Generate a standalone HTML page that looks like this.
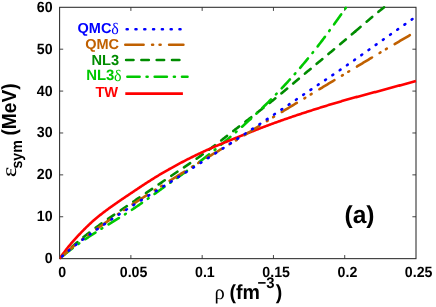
<!DOCTYPE html>
<html><head><meta charset="utf-8"><title>chart</title>
<style>html,body{margin:0;padding:0;background:#fff;width:436px;height:307px;overflow:hidden;font-family:"Liberation Sans",sans-serif}</style></head>
<body>
<svg width="436" height="307" viewBox="0 0 436 307" text-rendering="geometricPrecision" style="position:absolute;left:0;top:0;will-change:transform;opacity:0.999">
<rect width="436" height="307" fill="#fff"/>
<clipPath id="c"><rect x="59.6" y="5.8" width="357.4" height="254.34999999999997"/></clipPath>
<path d="M130.88,258.65 v-3.6 M130.88,7.3 v3.6 M202.16,258.65 v-3.6 M202.16,7.3 v3.6 M273.44,258.65 v-3.6 M273.44,7.3 v3.6 M344.72,258.65 v-3.6 M344.72,7.3 v3.6 M59.6,216.76 h3.6 M416.0,216.76 h-3.6 M59.6,174.87 h3.6 M416.0,174.87 h-3.6 M59.6,132.97 h3.6 M416.0,132.97 h-3.6 M59.6,91.08 h3.6 M416.0,91.08 h-3.6 M59.6,49.19 h3.6 M416.0,49.19 h-3.6" stroke="#444" stroke-width="1" fill="none"/>
<rect x="59.6" y="7.3" width="356.4" height="251.34999999999997" fill="none" stroke="#2b2b2b" stroke-width="1.05"/>
<g clip-path="url(#c)" fill="none" stroke-width="2.6">
<path d="M59.60,258.65 L60.34,257.91 L61.08,257.18 L61.82,256.45 L62.56,255.72 L63.30,255.00 L64.04,254.29 L64.78,253.57 L65.52,252.86 L66.26,252.16 L67.00,251.46 L67.74,250.76 L68.48,250.07 L69.22,249.39 L69.96,248.71 L70.70,248.03 L71.44,247.36 L72.19,246.69 L72.93,246.02 L73.67,245.37 L74.41,244.71 L75.15,244.06 L75.89,243.42 L76.63,242.78 L77.37,242.15 L78.11,241.52 L78.85,240.90 L79.59,240.28 L80.33,239.66 L81.07,239.05 L81.81,238.45 L82.55,237.85 L83.29,237.25 L84.03,236.66 L84.77,236.07 L85.51,235.49 L86.25,234.90 L86.99,234.33 L87.73,233.75 L88.47,233.18 L89.21,232.61 L89.95,232.04 L90.69,231.48 L91.43,230.92 L92.17,230.36 L92.91,229.81 L93.65,229.25 L94.39,228.70 L95.13,228.15 L95.88,227.60 L96.62,227.05 L97.36,226.51 L98.10,225.97 L98.84,225.43 L99.58,224.89 L100.32,224.36 L101.06,223.83 L101.80,223.30 L102.54,222.77 L103.28,222.25 L104.02,221.73 L104.76,221.20 L105.50,220.69 L106.24,220.17 L106.98,219.65 L107.72,219.14 L108.46,218.62 L109.20,218.11 L109.94,217.60 L110.68,217.09 L111.42,216.59 L112.16,216.08 L112.90,215.57 L113.64,215.07 L114.38,214.56 L115.12,214.06 L115.86,213.56 L116.60,213.05 L117.34,212.55 L118.08,212.05 L118.82,211.55 L119.57,211.05 L120.31,210.55 L121.05,210.05 L121.79,209.54 L122.53,209.04 L123.27,208.54 L124.01,208.04 L124.75,207.54 L125.49,207.04 L126.23,206.53 L126.97,206.03 L127.71,205.52 L128.45,205.02 L129.19,204.51 L129.93,204.01 L130.67,203.50 L131.41,202.99 L132.15,202.48 L132.89,201.97 L133.63,201.46 L134.37,200.96 L135.11,200.45 L135.85,199.94 L136.59,199.44 L137.33,198.93 L138.07,198.42 L138.81,197.92 L139.55,197.41 L140.29,196.91 L141.03,196.40 L141.77,195.90 L142.51,195.39 L143.26,194.89 L144.00,194.38 L144.74,193.88 L145.48,193.37 L146.22,192.87 L146.96,192.36 L147.70,191.86 L148.44,191.36 L149.18,190.85 L149.92,190.35 L150.66,189.85 L151.40,189.34 L152.14,188.84 L152.88,188.34 L153.62,187.83 L154.36,187.33 L155.10,186.83 L155.84,186.32 L156.58,185.82 L157.32,185.32 L158.06,184.81 L158.80,184.31 L159.54,183.81 L160.28,183.30 L161.02,182.80 L161.76,182.30 L162.50,181.79 L163.24,181.29 L163.98,180.78 L164.72,180.28 L165.46,179.78 L166.20,179.27 L166.95,178.77 L167.69,178.26 L168.43,177.76 L169.17,177.26 L169.91,176.76 L170.65,176.26 L171.39,175.76 L172.13,175.26 L172.87,174.76 L173.61,174.27 L174.35,173.77 L175.09,173.27 L175.83,172.78 L176.57,172.28 L177.31,171.79 L178.05,171.29 L178.79,170.80 L179.53,170.30 L180.27,169.81 L181.01,169.31 L181.75,168.82 L182.49,168.32 L183.23,167.82 L183.97,167.33 L184.71,166.83 L185.45,166.33 L186.19,165.83 L186.93,165.33 L187.67,164.83 L188.41,164.33 L189.15,163.83 L189.89,163.32 L190.64,162.82 L191.38,162.31 L192.12,161.81 L192.86,161.30 L193.60,160.79 L194.34,160.28 L195.08,159.76 L195.82,159.25 L196.56,158.73 L197.30,158.21 L198.04,157.69 L198.78,157.17 L199.52,156.65 L200.26,156.12 L201.00,155.59 L201.74,155.06 L202.48,154.53 L203.22,153.99 L203.96,153.45 L204.70,152.91 L205.44,152.37 L206.18,151.83 L206.92,151.28 L207.66,150.73 L208.40,150.18 L209.14,149.63 L209.88,149.07 L210.62,148.52 L211.36,147.96 L212.10,147.40 L212.84,146.84 L213.58,146.27 L214.33,145.71 L215.07,145.14 L215.81,144.58 L216.55,144.01 L217.29,143.44 L218.03,142.87 L218.77,142.30 L219.51,141.73 L220.25,141.16 L220.99,140.58 L221.73,140.01 L222.47,139.44 L223.21,138.86 L223.95,138.28 L224.69,137.71 L225.43,137.13 L226.17,136.56 L226.91,135.98 L227.65,135.40 L228.39,134.83 L229.13,134.25 L229.87,133.67 L230.61,133.10 L231.35,132.52 L232.09,131.95 L232.83,131.37 L233.57,130.80 L234.31,130.22 L235.05,129.65 L235.79,129.08 L236.53,128.50 L237.27,127.93 L238.02,127.36 L238.76,126.79 L239.50,126.22 L240.24,125.66 L240.98,125.09 L241.72,124.52 L242.46,123.95 L243.20,123.38 L243.94,122.82 L244.68,122.25 L245.42,121.68 L246.16,121.12 L246.90,120.55 L247.64,119.98 L248.38,119.42 L249.12,118.85 L249.86,118.28 L250.60,117.71 L251.34,117.15 L252.08,116.58 L252.82,116.01 L253.56,115.44 L254.30,114.87 L255.04,114.30 L255.78,113.73 L256.52,113.16 L257.26,112.59 L258.00,112.02 L258.74,111.45 L259.48,110.87 L260.22,110.30 L260.96,109.72 L261.71,109.15 L262.45,108.57 L263.19,108.00 L263.93,107.42 L264.67,106.84 L265.41,106.26 L266.15,105.68 L266.89,105.09 L267.63,104.51 L268.37,103.92 L269.11,103.34 L269.85,102.75 L270.59,102.16 L271.33,101.57 L272.07,100.98 L272.81,100.39 L273.55,99.79 L274.29,99.20 L275.03,98.60 L275.77,98.00 L276.51,97.40 L277.25,96.79 L277.99,96.19 L278.73,95.58 L279.47,94.97 L280.21,94.36 L280.95,93.75 L281.69,93.14 L282.43,92.53 L283.17,91.91 L283.91,91.30 L284.65,90.68 L285.40,90.06 L286.14,89.45 L286.88,88.83 L287.62,88.21 L288.36,87.59 L289.10,86.96 L289.84,86.34 L290.58,85.72 L291.32,85.10 L292.06,84.47 L292.80,83.85 L293.54,83.22 L294.28,82.60 L295.02,81.97 L295.76,81.35 L296.50,80.72 L297.24,80.10 L297.98,79.47 L298.72,78.85 L299.46,78.22 L300.20,77.60 L300.94,76.97 L301.68,76.35 L302.42,75.72 L303.16,75.10 L303.90,74.48 L304.64,73.85 L305.38,73.23 L306.12,72.61 L306.86,71.99 L307.60,71.37 L308.34,70.75 L309.09,70.13 L309.83,69.52 L310.57,68.90 L311.31,68.28 L312.05,67.66 L312.79,67.05 L313.53,66.43 L314.27,65.81 L315.01,65.20 L315.75,64.58 L316.49,63.96 L317.23,63.35 L317.97,62.73 L318.71,62.11 L319.45,61.50 L320.19,60.88 L320.93,60.26 L321.67,59.65 L322.41,59.03 L323.15,58.41 L323.89,57.80 L324.63,57.18 L325.37,56.56 L326.11,55.95 L326.85,55.33 L327.59,54.71 L328.33,54.10 L329.07,53.48 L329.81,52.86 L330.55,52.25 L331.29,51.63 L332.03,51.01 L332.77,50.39 L333.52,49.78 L334.26,49.16 L335.00,48.54 L335.74,47.92 L336.48,47.30 L337.22,46.68 L337.96,46.06 L338.70,45.44 L339.44,44.83 L340.18,44.21 L340.92,43.58 L341.66,42.96 L342.40,42.34 L343.14,41.72 L343.88,41.10 L344.62,40.48 L345.36,39.86 L346.10,39.23 L346.84,38.61 L347.58,37.98 L348.32,37.35 L349.06,36.72 L349.80,36.09 L350.54,35.46 L351.28,34.83 L352.02,34.20 L352.76,33.57 L353.50,32.93 L354.24,32.30 L354.98,31.66" stroke="#008c00" stroke-dasharray="7.4 7.9" stroke-dashoffset="-1.6" stroke-linecap="round"/>
<path d="M354.98,31.66 L355.14,31.53 L355.29,31.40 L355.44,31.27 L355.60,31.14 L355.75,31.01 L355.90,30.88 L356.05,30.74 L356.21,30.61 L356.36,30.48 L356.51,30.35 L356.67,30.22 L356.82,30.09 L356.97,29.96 L357.13,29.83 L357.28,29.69 L357.43,29.56 L357.58,29.43 L357.74,29.30 L357.89,29.17 L358.04,29.04 L358.20,28.91 L358.35,28.78 L358.50,28.64 L358.65,28.51 L358.81,28.38 L358.96,28.25 L359.11,28.12 L359.27,27.99 L359.42,27.86 L359.57,27.73 L359.72,27.59 L359.88,27.46 L360.03,27.33 L360.18,27.20 L360.34,27.07 L360.49,26.94 L360.64,26.81 L360.80,26.68 L360.95,26.54 L361.10,26.41 L361.25,26.28 L361.41,26.15 L361.56,26.02 L361.71,25.89 L361.87,25.76 L362.02,25.63 L362.17,25.50 L362.32,25.36 L362.48,25.23 L362.63,25.10 L362.78,24.97 L362.94,24.84 L363.09,24.71 L363.24,24.58 L363.40,24.45 L363.55,24.32 L363.70,24.19 L363.85,24.06 L364.01,23.92 L364.16,23.79 L364.31,23.66 L364.47,23.53 L364.62,23.40 L364.77,23.27 L364.92,23.14 L365.08,23.01 L365.23,22.88 L365.38,22.75 L365.54,22.62 L365.69,22.49 L365.84,22.36 L365.99,22.23 L366.15,22.10 L366.30,21.97 L366.45,21.84 L366.61,21.71 L366.76,21.57 L366.91,21.44 L367.07,21.31 L367.22,21.18 L367.37,21.05 L367.52,20.92 L367.68,20.79 L367.83,20.66 L367.98,20.53 L368.14,20.40 L368.29,20.28 L368.44,20.15 L368.59,20.02 L368.75,19.89 L368.90,19.76 L369.05,19.63 L369.21,19.50 L369.36,19.37 L369.51,19.24 L369.66,19.11 L369.82,18.98 L369.97,18.85 L370.12,18.72 L370.28,18.59 L370.43,18.46 L370.58,18.33 L370.74,18.20 L370.89,18.08 L371.04,17.95 L371.19,17.82 L371.35,17.69 L371.50,17.56 L371.65,17.43 L371.81,17.30 L371.96,17.18 L372.11,17.05 L372.26,16.92 L372.42,16.79 L372.57,16.66 L372.72,16.53 L372.88,16.41 L373.03,16.28 L373.18,16.15 L373.33,16.02 L373.49,15.89 L373.64,15.77 L373.79,15.64 L373.95,15.51 L374.10,15.38 L374.25,15.26 L374.41,15.13 L374.56,15.00 L374.71,14.87 L374.86,14.75 L375.02,14.62 L375.17,14.49 L375.32,14.37 L375.48,14.24 L375.63,14.11 L375.78,13.99 L375.93,13.86 L376.09,13.73 L376.24,13.61 L376.39,13.48 L376.55,13.35 L376.70,13.23 L376.85,13.10 L377.01,12.97 L377.16,12.85 L377.31,12.72 L377.46,12.60 L377.62,12.47 L377.77,12.35 L377.92,12.22 L378.08,12.09 L378.23,11.97 L378.38,11.84 L378.53,11.72 L378.69,11.59 L378.84,11.47 L378.99,11.34 L379.15,11.22 L379.30,11.09 L379.45,10.97 L379.60,10.85 L379.76,10.72 L379.91,10.60 L380.06,10.47 L380.22,10.35 L380.37,10.22 L380.52,10.10 L380.68,9.98 L380.83,9.86 L380.98,9.73 L381.13,9.61 L381.29,9.49 L381.44,9.37 L381.59,9.25 L381.75,9.13 L381.90,9.00 L382.05,8.88 L382.20,8.76 L382.36,8.64 L382.51,8.52 L382.66,8.40 L382.82,8.28 L382.97,8.16 L383.12,8.04 L383.27,7.92 L383.43,7.80 L383.58,7.68 L383.73,7.56 L383.89,7.44 L384.04,7.32 L384.07,7.30" stroke="#008c00" stroke-dasharray="7.4 7.9" stroke-linecap="round"/>
<path d="M59.60,258.65 L60.40,257.97 L61.21,257.30 L62.01,256.63 L62.82,255.96 L63.62,255.30 L64.42,254.64 L65.23,253.99 L66.03,253.34 L66.84,252.69 L67.64,252.05 L68.44,251.41 L69.25,250.78 L70.05,250.15 L70.85,249.53 L71.66,248.91 L72.46,248.30 L73.27,247.69 L74.07,247.08 L74.87,246.48 L75.68,245.89 L76.48,245.30 L77.29,244.71 L78.09,244.13 L78.89,243.56 L79.70,242.99 L80.50,242.43 L81.31,241.87 L82.11,241.32 L82.91,240.77 L83.72,240.22 L84.52,239.68 L85.33,239.15 L86.13,238.61 L86.93,238.08 L87.74,237.55 L88.54,237.02 L89.34,236.50 L90.15,235.98 L90.95,235.45 L91.76,234.93 L92.56,234.41 L93.36,233.89 L94.17,233.37 L94.97,232.85 L95.78,232.33 L96.58,231.81 L97.38,231.30 L98.19,230.79 L98.99,230.28 L99.80,229.77 L100.60,229.27 L101.40,228.77 L102.21,228.27 L103.01,227.77 L103.82,227.27 L104.62,226.78 L105.42,226.28 L106.23,225.79 L107.03,225.30 L107.83,224.81 L108.64,224.32 L109.44,223.83 L110.25,223.34 L111.05,222.85 L111.85,222.37 L112.66,221.88 L113.46,221.39 L114.27,220.90 L115.07,220.41 L115.87,219.92 L116.68,219.43 L117.48,218.94 L118.29,218.45 L119.09,217.96 L119.89,217.46 L120.70,216.97 L121.50,216.47 L122.30,215.97 L123.11,215.47 L123.91,214.96 L124.72,214.45 L125.52,213.95 L126.32,213.43 L127.13,212.92 L127.93,212.40 L128.74,211.88 L129.54,211.36 L130.34,210.83 L131.15,210.30 L131.95,209.76 L132.76,209.23 L133.56,208.69 L134.36,208.14 L135.17,207.60 L135.97,207.05 L136.78,206.50 L137.58,205.95 L138.38,205.39 L139.19,204.84 L139.99,204.28 L140.79,203.72 L141.60,203.16 L142.40,202.59 L143.21,202.03 L144.01,201.46 L144.81,200.89 L145.62,200.32 L146.42,199.75 L147.23,199.18 L148.03,198.61 L148.83,198.03 L149.64,197.46 L150.44,196.88 L151.25,196.30 L152.05,195.73 L152.85,195.15 L153.66,194.57 L154.46,193.99 L155.27,193.41 L156.07,192.84 L156.87,192.26 L157.68,191.68 L158.48,191.10 L159.28,190.52 L160.09,189.94 L160.89,189.36 L161.70,188.79 L162.50,188.21 L163.30,187.63 L164.11,187.06 L164.91,186.49 L165.72,185.91 L166.52,185.34 L167.32,184.77 L168.13,184.20 L168.93,183.63 L169.74,183.06 L170.54,182.50 L171.34,181.93 L172.15,181.37 L172.95,180.80 L173.76,180.24 L174.56,179.67 L175.36,179.11 L176.17,178.55 L176.97,177.98 L177.77,177.42 L178.58,176.86 L179.38,176.29 L180.19,175.73 L180.99,175.17 L181.79,174.60 L182.60,174.04 L183.40,173.47 L184.21,172.90 L185.01,172.34 L185.81,171.77 L186.62,171.20 L187.42,170.62 L188.23,170.05 L189.03,169.48 L189.83,168.90 L190.64,168.32 L191.44,167.74 L192.25,167.16 L193.05,166.58 L193.85,165.99 L194.66,165.40 L195.46,164.81 L196.26,164.22 L197.07,163.62 L197.87,163.03 L198.68,162.42 L199.48,161.82 L200.28,161.21 L201.09,160.60 L201.89,159.99 L202.70,159.37 L203.50,158.76 L204.30,158.14 L205.11,157.51 L205.91,156.89 L206.72,156.26 L207.52,155.63 L208.32,155.00 L209.13,154.37 L209.93,153.73 L210.74,153.10 L211.54,152.46 L212.34,151.82 L213.15,151.17 L213.95,150.53 L214.75,149.88 L215.56,149.23 L216.36,148.58 L217.17,147.92 L217.97,147.27 L218.77,146.61 L219.58,145.95 L220.38,145.29 L221.19,144.62 L221.99,143.96 L222.79,143.29 L223.60,142.62 L224.40,141.95 L225.21,141.28 L226.01,140.60 L226.81,139.92 L227.62,139.24 L228.42,138.56 L229.22,137.88 L230.03,137.19 L230.83,136.50 L231.64,135.81 L232.44,135.12 L233.24,134.43 L234.05,133.73 L234.85,133.04 L235.66,132.34 L236.46,131.63 L237.26,130.93 L238.07,130.23 L238.87,129.52 L239.68,128.81 L240.48,128.10 L241.28,127.39 L242.09,126.67 L242.89,125.96 L243.70,125.24 L244.50,124.52 L245.30,123.80 L246.11,123.08 L246.91,122.35 L247.71,121.62 L248.52,120.89 L249.32,120.16 L250.13,119.43 L250.93,118.69 L251.73,117.95 L252.54,117.21 L253.34,116.46 L254.15,115.72 L254.95,114.97 L255.75,114.22 L256.56,113.46 L257.36,112.71 L258.17,111.95 L258.97,111.19 L259.77,110.42 L260.58,109.65 L261.38,108.88 L262.19,108.11 L262.99,107.33 L263.79,106.55 L264.60,105.77 L265.40,104.98 L266.20,104.20 L267.01,103.40 L267.81,102.61 L268.62,101.81 L269.42,101.01 L270.22,100.20 L271.03,99.39 L271.83,98.58 L272.64,97.77 L273.44,96.95 L274.24,96.13 L275.05,95.30 L275.85,94.47 L276.66,93.64 L277.46,92.80 L278.26,91.96 L279.07,91.12 L279.87,90.28 L280.68,89.43 L281.48,88.58 L282.28,87.72 L283.09,86.86 L283.89,86.00 L284.69,85.13 L285.50,84.26 L286.30,83.39 L287.11,82.51 L287.91,81.63 L288.71,80.75 L289.52,79.86 L290.32,78.97 L291.13,78.08 L291.93,77.18 L292.73,76.28 L293.54,75.37 L294.34,74.47 L295.15,73.55 L295.95,72.64 L296.75,71.72 L297.56,70.79 L298.36,69.87 L299.17,68.94 L299.97,68.00 L300.77,67.07 L301.58,66.12 L302.38,65.18 L303.18,64.23 L303.99,63.28 L304.79,62.32 L305.60,61.36 L306.40,60.39 L307.20,59.43 L308.01,58.45 L308.81,57.48 L309.62,56.50 L310.42,55.51 L311.22,54.52 L312.03,53.52 L312.83,52.52 L313.64,51.51 L314.44,50.50 L315.24,49.48 L316.05,48.45 L316.85,47.43 L317.66,46.39 L318.46,45.35 L319.26,44.31 L320.07,43.26 L320.87,42.21 L321.67,41.15 L322.48,40.09 L323.28,39.02 L324.09,37.96 L324.89,36.88 L325.69,35.80 L326.50,34.72 L327.30,33.64 L328.11,32.55 L328.91,31.46 L329.71,30.36 L330.52,29.26 L331.32,28.16 L332.13,27.05 L332.93,25.94 L333.73,24.83 L334.54,23.72 L335.34,22.60 L336.14,21.48 L336.95,20.36 L337.75,19.23 L338.56,18.11 L339.36,16.98 L340.16,15.84 L340.97,14.71 L341.77,13.57 L342.58,12.44 L343.38,11.30 L344.18,10.16 L344.99,9.01 L345.79,7.82 L346.15,7.30" stroke="#00c800" stroke-dasharray="12.2 7.1 1 7.3" stroke-dashoffset="-4.6" stroke-linecap="round"/>
<path d="M59.60,258.65 L60.49,257.37 L61.39,256.11 L62.28,254.86 L63.17,253.64 L64.07,252.42 L64.96,251.23 L65.85,250.06 L66.75,248.91 L67.64,247.77 L68.53,246.66 L69.43,245.56 L70.32,244.48 L71.21,243.42 L72.11,242.37 L73.00,241.34 L73.89,240.32 L74.78,239.32 L75.68,238.33 L76.57,237.36 L77.46,236.40 L78.36,235.45 L79.25,234.51 L80.14,233.57 L81.04,232.63 L81.93,231.71 L82.82,230.79 L83.72,229.88 L84.61,228.97 L85.50,228.08 L86.40,227.19 L87.29,226.32 L88.18,225.46 L89.08,224.60 L89.97,223.76 L90.86,222.93 L91.76,222.12 L92.65,221.31 L93.54,220.52 L94.44,219.75 L95.33,218.99 L96.22,218.24 L97.12,217.50 L98.01,216.77 L98.90,216.04 L99.80,215.32 L100.69,214.62 L101.58,213.91 L102.48,213.22 L103.37,212.53 L104.26,211.85 L105.15,211.17 L106.05,210.50 L106.94,209.84 L107.83,209.18 L108.73,208.53 L109.62,207.88 L110.51,207.24 L111.41,206.60 L112.30,205.97 L113.19,205.34 L114.09,204.71 L114.98,204.09 L115.87,203.47 L116.77,202.85 L117.66,202.23 L118.55,201.62 L119.45,201.01 L120.34,200.41 L121.23,199.80 L122.13,199.20 L123.02,198.59 L123.91,197.99 L124.81,197.39 L125.70,196.79 L126.59,196.19 L127.49,195.59 L128.38,194.99 L129.27,194.38 L130.17,193.78 L131.06,193.18 L131.95,192.58 L132.85,191.97 L133.74,191.37 L134.63,190.77 L135.52,190.17 L136.42,189.57 L137.31,188.98 L138.20,188.38 L139.10,187.79 L139.99,187.20 L140.88,186.60 L141.78,186.02 L142.67,185.43 L143.56,184.84 L144.46,184.26 L145.35,183.68 L146.24,183.10 L147.14,182.52 L148.03,181.95 L148.92,181.37 L149.82,180.80 L150.71,180.23 L151.60,179.67 L152.50,179.11 L153.39,178.55 L154.28,177.99 L155.18,177.43 L156.07,176.88 L156.96,176.34 L157.86,175.79 L158.75,175.25 L159.64,174.71 L160.54,174.17 L161.43,173.64 L162.32,173.11 L163.22,172.59 L164.11,172.07 L165.00,171.55 L165.89,171.03 L166.79,170.52 L167.68,170.02 L168.57,169.51 L169.47,169.01 L170.36,168.51 L171.25,168.01 L172.15,167.52 L173.04,167.03 L173.93,166.53 L174.83,166.05 L175.72,165.56 L176.61,165.08 L177.51,164.60 L178.40,164.12 L179.29,163.64 L180.19,163.17 L181.08,162.70 L181.97,162.23 L182.87,161.76 L183.76,161.30 L184.65,160.83 L185.55,160.37 L186.44,159.92 L187.33,159.46 L188.23,159.01 L189.12,158.56 L190.01,158.11 L190.91,157.67 L191.80,157.22 L192.69,156.78 L193.58,156.34 L194.48,155.91 L195.37,155.47 L196.26,155.04 L197.16,154.61 L198.05,154.18 L198.94,153.76 L199.84,153.33 L200.73,152.91 L201.62,152.50 L202.52,152.08 L203.41,151.67 L204.30,151.26 L205.20,150.85 L206.09,150.44 L206.98,150.04 L207.88,149.64 L208.77,149.24 L209.66,148.85 L210.56,148.46 L211.45,148.07 L212.34,147.68 L213.24,147.29 L214.13,146.91 L215.02,146.53 L215.92,146.14 L216.81,145.77 L217.70,145.39 L218.60,145.01 L219.49,144.64 L220.38,144.27 L221.28,143.90 L222.17,143.53 L223.06,143.16 L223.95,142.79 L224.85,142.42 L225.74,142.06 L226.63,141.69 L227.53,141.33 L228.42,140.96 L229.31,140.60 L230.21,140.24 L231.10,139.87 L231.99,139.51 L232.89,139.15 L233.78,138.79 L234.67,138.43 L235.57,138.07 L236.46,137.71 L237.35,137.34 L238.25,136.98 L239.14,136.62 L240.03,136.26 L240.93,135.90 L241.82,135.54 L242.71,135.18 L243.61,134.82 L244.50,134.47 L245.39,134.11 L246.29,133.75 L247.18,133.39 L248.07,133.04 L248.97,132.68 L249.86,132.33 L250.75,131.98 L251.65,131.62 L252.54,131.27 L253.43,130.92 L254.32,130.57 L255.22,130.22 L256.11,129.87 L257.00,129.53 L257.90,129.18 L258.79,128.84 L259.68,128.49 L260.58,128.15 L261.47,127.81 L262.36,127.46 L263.26,127.12 L264.15,126.79 L265.04,126.45 L265.94,126.11 L266.83,125.78 L267.72,125.44 L268.62,125.11 L269.51,124.78 L270.40,124.45 L271.30,124.12 L272.19,123.80 L273.08,123.47 L273.98,123.15 L274.87,122.82 L275.76,122.50 L276.66,122.18 L277.55,121.86 L278.44,121.54 L279.34,121.22 L280.23,120.91 L281.12,120.59 L282.02,120.28 L282.91,119.97 L283.80,119.65 L284.69,119.34 L285.59,119.03 L286.48,118.72 L287.37,118.41 L288.27,118.11 L289.16,117.80 L290.05,117.50 L290.95,117.19 L291.84,116.89 L292.73,116.58 L293.63,116.28 L294.52,115.98 L295.41,115.68 L296.31,115.38 L297.20,115.08 L298.09,114.79 L298.99,114.49 L299.88,114.19 L300.77,113.90 L301.67,113.61 L302.56,113.31 L303.45,113.02 L304.35,112.73 L305.24,112.44 L306.13,112.15 L307.03,111.86 L307.92,111.57 L308.81,111.28 L309.71,110.99 L310.60,110.70 L311.49,110.42 L312.38,110.13 L313.28,109.85 L314.17,109.56 L315.06,109.28 L315.96,108.99 L316.85,108.71 L317.74,108.43 L318.64,108.15 L319.53,107.87 L320.42,107.59 L321.32,107.31 L322.21,107.03 L323.10,106.76 L324.00,106.48 L324.89,106.21 L325.78,105.93 L326.68,105.66 L327.57,105.38 L328.46,105.11 L329.36,104.84 L330.25,104.57 L331.14,104.30 L332.04,104.03 L332.93,103.76 L333.82,103.49 L334.72,103.23 L335.61,102.96 L336.50,102.70 L337.40,102.43 L338.29,102.17 L339.18,101.91 L340.08,101.64 L340.97,101.38 L341.86,101.12 L342.75,100.87 L343.65,100.61 L344.54,100.35 L345.43,100.09 L346.33,99.84 L347.22,99.59 L348.11,99.34 L349.01,99.09 L349.90,98.84 L350.79,98.59 L351.69,98.34 L352.58,98.10 L353.47,97.85 L354.37,97.61 L355.26,97.36 L356.15,97.12 L357.05,96.88 L357.94,96.64 L358.83,96.40 L359.73,96.16 L360.62,95.92 L361.51,95.68 L362.41,95.44 L363.30,95.21 L364.19,94.97 L365.09,94.73 L365.98,94.49 L366.87,94.26 L367.77,94.02 L368.66,93.79 L369.55,93.55 L370.45,93.31 L371.34,93.08 L372.23,92.84 L373.12,92.60 L374.02,92.36 L374.91,92.13 L375.80,91.89 L376.70,91.65 L377.59,91.41 L378.48,91.17 L379.38,90.93 L380.27,90.69 L381.16,90.45 L382.06,90.21 L382.95,89.96 L383.84,89.72 L384.74,89.48 L385.63,89.24 L386.52,89.00 L387.42,88.76 L388.31,88.52 L389.20,88.27 L390.10,88.03 L390.99,87.79 L391.88,87.55 L392.78,87.31 L393.67,87.07 L394.56,86.82 L395.46,86.58 L396.35,86.34 L397.24,86.10 L398.14,85.86 L399.03,85.62 L399.92,85.38 L400.82,85.13 L401.71,84.89 L402.60,84.65 L403.49,84.41 L404.39,84.17 L405.28,83.93 L406.17,83.69 L407.07,83.44 L407.96,83.20 L408.85,82.96 L409.75,82.72 L410.64,82.48 L411.53,82.24 L412.43,82.00 L413.32,81.75 L414.21,81.51 L415.11,81.27 L416.00,81.03" stroke="#ff0000" />
<path d="M59.60,258.65 L60.49,257.82 L61.39,256.99 L62.28,256.17 L63.17,255.35 L64.07,254.54 L64.96,253.74 L65.85,252.94 L66.75,252.15 L67.64,251.36 L68.53,250.58 L69.43,249.81 L70.32,249.04 L71.21,248.27 L72.11,247.52 L73.00,246.77 L73.89,246.02 L74.78,245.29 L75.68,244.56 L76.57,243.83 L77.46,243.11 L78.36,242.40 L79.25,241.70 L80.14,241.01 L81.04,240.32 L81.93,239.64 L82.82,238.96 L83.72,238.30 L84.61,237.63 L85.50,236.97 L86.40,236.32 L87.29,235.66 L88.18,235.02 L89.08,234.37 L89.97,233.73 L90.86,233.09 L91.76,232.45 L92.65,231.81 L93.54,231.17 L94.44,230.53 L95.33,229.89 L96.22,229.25 L97.12,228.61 L98.01,227.98 L98.90,227.34 L99.80,226.71 L100.69,226.08 L101.58,225.45 L102.48,224.82 L103.37,224.19 L104.26,223.56 L105.15,222.94 L106.05,222.31 L106.94,221.69 L107.83,221.07 L108.73,220.44 L109.62,219.82 L110.51,219.21 L111.41,218.59 L112.30,217.97 L113.19,217.36 L114.09,216.75 L114.98,216.13 L115.87,215.52 L116.77,214.91 L117.66,214.31 L118.55,213.70 L119.45,213.09 L120.34,212.49 L121.23,211.89 L122.13,211.28 L123.02,210.68 L123.91,210.08 L124.81,209.48 L125.70,208.89 L126.59,208.29 L127.49,207.70 L128.38,207.10 L129.27,206.51 L130.17,205.92 L131.06,205.33 L131.95,204.74 L132.85,204.16 L133.74,203.57 L134.63,202.99 L135.52,202.41 L136.42,201.83 L137.31,201.25 L138.20,200.67 L139.10,200.10 L139.99,199.53 L140.88,198.95 L141.78,198.38 L142.67,197.81 L143.56,197.25 L144.46,196.68 L145.35,196.11 L146.24,195.55 L147.14,194.98 L148.03,194.42 L148.92,193.86 L149.82,193.29 L150.71,192.73 L151.60,192.17 L152.50,191.61 L153.39,191.05 L154.28,190.49 L155.18,189.93 L156.07,189.37 L156.96,188.81 L157.86,188.26 L158.75,187.70 L159.64,187.14 L160.54,186.58 L161.43,186.02 L162.32,185.46 L163.22,184.90 L164.11,184.34 L165.00,183.78 L165.89,183.22 L166.79,182.66 L167.68,182.10 L168.57,181.53 L169.47,180.97 L170.36,180.41 L171.25,179.85 L172.15,179.29 L173.04,178.73 L173.93,178.17 L174.83,177.60 L175.72,177.04 L176.61,176.48 L177.51,175.92 L178.40,175.36 L179.29,174.80 L180.19,174.24 L181.08,173.68 L181.97,173.13 L182.87,172.57 L183.76,172.01 L184.65,171.45 L185.55,170.89 L186.44,170.34 L187.33,169.78 L188.23,169.22 L189.12,168.67 L190.01,168.11 L190.91,167.56 L191.80,167.00 L192.69,166.45 L193.58,165.90 L194.48,165.34 L195.37,164.79 L196.26,164.24 L197.16,163.69 L198.05,163.14 L198.94,162.59 L199.84,162.05 L200.73,161.50 L201.62,160.95 L202.52,160.41 L203.41,159.86 L204.30,159.32 L205.20,158.78 L206.09,158.24 L206.98,157.70 L207.88,157.16 L208.77,156.62 L209.66,156.09 L210.56,155.55 L211.45,155.02 L212.34,154.48 L213.24,153.95 L214.13,153.42 L215.02,152.89 L215.92,152.36 L216.81,151.82 L217.70,151.29 L218.60,150.76 L219.49,150.23 L220.38,149.70 L221.28,149.17 L222.17,148.64 L223.06,148.11 L223.95,147.58 L224.85,147.05 L225.74,146.52 L226.63,145.98 L227.53,145.45 L228.42,144.92 L229.31,144.38 L230.21,143.85 L231.10,143.31 L231.99,142.78 L232.89,142.24 L233.78,141.70 L234.67,141.16 L235.57,140.62 L236.46,140.08 L237.35,139.53 L238.25,138.99 L239.14,138.44 L240.03,137.89 L240.93,137.34 L241.82,136.79 L242.71,136.24 L243.61,135.68 L244.50,135.13 L245.39,134.57 L246.29,134.02 L247.18,133.46 L248.07,132.90 L248.97,132.34 L249.86,131.79 L250.75,131.23 L251.65,130.67 L252.54,130.11 L253.43,129.55 L254.32,128.98 L255.22,128.42 L256.11,127.86 L257.00,127.30 L257.90,126.74 L258.79,126.18 L259.68,125.62 L260.58,125.06 L261.47,124.50 L262.36,123.94 L263.26,123.38 L264.15,122.82 L265.04,122.26 L265.94,121.70 L266.83,121.15 L267.72,120.59 L268.62,120.04 L269.51,119.48 L270.40,118.93 L271.30,118.38 L272.19,117.83 L273.08,117.28 L273.98,116.73 L274.87,116.18 L275.76,115.63 L276.66,115.09 L277.55,114.54 L278.44,114.00 L279.34,113.45 L280.23,112.91 L281.12,112.37 L282.02,111.82 L282.91,111.28 L283.80,110.74 L284.69,110.20 L285.59,109.66 L286.48,109.12 L287.37,108.58 L288.27,108.04 L289.16,107.50 L290.05,106.96 L290.95,106.42 L291.84,105.88 L292.73,105.34 L293.63,104.80 L294.52,104.26 L295.41,103.73 L296.31,103.19 L297.20,102.65 L298.09,102.11 L298.99,101.57 L299.88,101.04 L300.77,100.50 L301.67,99.96 L302.56,99.42 L303.45,98.88 L304.35,98.34 L305.24,97.80 L306.13,97.26 L307.03,96.72 L307.92,96.18 L308.81,95.64 L309.71,95.10 L310.60,94.56 L311.49,94.02 L312.38,93.48 L313.28,92.94 L314.17,92.40 L315.06,91.86 L315.96,91.32 L316.85,90.77 L317.74,90.23 L318.64,89.69 L319.53,89.15 L320.42,88.61 L321.32,88.07 L322.21,87.52 L323.10,86.98 L324.00,86.44 L324.89,85.90 L325.78,85.36 L326.68,84.82 L327.57,84.28 L328.46,83.73 L329.36,83.19 L330.25,82.65 L331.14,82.11 L332.04,81.57 L332.93,81.03 L333.82,80.49 L334.72,79.95 L335.61,79.41 L336.50,78.87 L337.40,78.33 L338.29,77.79 L339.18,77.25 L340.08,76.71 L340.97,76.17 L341.86,75.63 L342.75,75.09 L343.65,74.55 L344.54,74.02 L345.43,73.48 L346.33,72.94 L347.22,72.40 L348.11,71.86 L349.01,71.33 L349.90,70.79 L350.79,70.25 L351.69,69.71 L352.58,69.17 L353.47,68.64 L354.37,68.10 L355.26,67.56 L356.15,67.02 L357.05,66.49 L357.94,65.95 L358.83,65.41 L359.73,64.88 L360.62,64.34 L361.51,63.80 L362.41,63.27 L363.30,62.73 L364.19,62.19 L365.09,61.66 L365.98,61.12 L366.87,60.59 L367.77,60.05 L368.66,59.52 L369.55,58.98 L370.45,58.45 L371.34,57.92 L372.23,57.38 L373.12,56.85 L374.02,56.32 L374.91,55.78 L375.80,55.25 L376.70,54.72 L377.59,54.19 L378.48,53.66 L379.38,53.13 L380.27,52.60 L381.16,52.07 L382.06,51.54 L382.95,51.01 L383.84,50.48 L384.74,49.95 L385.63,49.42 L386.52,48.89 L387.42,48.36 L388.31,47.83 L389.20,47.31 L390.10,46.78 L390.99,46.25 L391.88,45.73 L392.78,45.20 L393.67,44.67 L394.56,44.15 L395.46,43.62 L396.35,43.09 L397.24,42.57 L398.14,42.04 L399.03,41.52 L399.92,40.99 L400.82,40.47 L401.71,39.95 L402.60,39.42 L403.49,38.90 L404.39,38.38 L405.28,37.85 L406.17,37.33 L407.07,36.81 L407.96,36.29 L408.85,35.76 L409.75,35.24 L410.64,34.72 L411.53,34.20 L412.43,33.68 L413.32,33.16 L414.21,32.64 L415.11,32.12 L416.00,31.60" stroke="#c06000" stroke-dasharray="17.6 8.8 1 6.4 1 9.1" stroke-dashoffset="-3.2" stroke-linecap="round"/>
<path d="M59.60,258.65 L60.49,257.84 L61.39,257.04 L62.28,256.25 L63.17,255.46 L64.07,254.67 L64.96,253.89 L65.85,253.11 L66.75,252.34 L67.64,251.58 L68.53,250.82 L69.43,250.06 L70.32,249.32 L71.21,248.57 L72.11,247.84 L73.00,247.10 L73.89,246.38 L74.78,245.66 L75.68,244.94 L76.57,244.24 L77.46,243.53 L78.36,242.84 L79.25,242.15 L80.14,241.47 L81.04,240.79 L81.93,240.12 L82.82,239.46 L83.72,238.80 L84.61,238.14 L85.50,237.49 L86.40,236.85 L87.29,236.20 L88.18,235.56 L89.08,234.93 L89.97,234.29 L90.86,233.66 L91.76,233.03 L92.65,232.40 L93.54,231.77 L94.44,231.15 L95.33,230.52 L96.22,229.89 L97.12,229.27 L98.01,228.65 L98.90,228.03 L99.80,227.41 L100.69,226.79 L101.58,226.18 L102.48,225.56 L103.37,224.95 L104.26,224.34 L105.15,223.73 L106.05,223.12 L106.94,222.51 L107.83,221.91 L108.73,221.30 L109.62,220.70 L110.51,220.10 L111.41,219.50 L112.30,218.90 L113.19,218.31 L114.09,217.71 L114.98,217.11 L115.87,216.52 L116.77,215.93 L117.66,215.34 L118.55,214.75 L119.45,214.16 L120.34,213.57 L121.23,212.98 L122.13,212.40 L123.02,211.81 L123.91,211.23 L124.81,210.64 L125.70,210.06 L126.59,209.48 L127.49,208.90 L128.38,208.32 L129.27,207.74 L130.17,207.17 L131.06,206.59 L131.95,206.01 L132.85,205.44 L133.74,204.87 L134.63,204.30 L135.52,203.73 L136.42,203.17 L137.31,202.61 L138.20,202.04 L139.10,201.48 L139.99,200.92 L140.88,200.37 L141.78,199.81 L142.67,199.25 L143.56,198.70 L144.46,198.15 L145.35,197.59 L146.24,197.04 L147.14,196.49 L148.03,195.94 L148.92,195.39 L149.82,194.84 L150.71,194.29 L151.60,193.74 L152.50,193.19 L153.39,192.64 L154.28,192.09 L155.18,191.54 L156.07,190.99 L156.96,190.44 L157.86,189.89 L158.75,189.34 L159.64,188.79 L160.54,188.24 L161.43,187.68 L162.32,187.13 L163.22,186.57 L164.11,186.01 L165.00,185.45 L165.89,184.89 L166.79,184.33 L167.68,183.77 L168.57,183.21 L169.47,182.65 L170.36,182.09 L171.25,181.52 L172.15,180.96 L173.04,180.40 L173.93,179.83 L174.83,179.27 L175.72,178.71 L176.61,178.14 L177.51,177.58 L178.40,177.02 L179.29,176.45 L180.19,175.89 L181.08,175.32 L181.97,174.76 L182.87,174.19 L183.76,173.62 L184.65,173.06 L185.55,172.49 L186.44,171.92 L187.33,171.36 L188.23,170.79 L189.12,170.22 L190.01,169.65 L190.91,169.08 L191.80,168.51 L192.69,167.95 L193.58,167.38 L194.48,166.80 L195.37,166.23 L196.26,165.66 L197.16,165.09 L198.05,164.52 L198.94,163.95 L199.84,163.37 L200.73,162.80 L201.62,162.22 L202.52,161.65 L203.41,161.08 L204.30,160.50 L205.20,159.92 L206.09,159.35 L206.98,158.77 L207.88,158.19 L208.77,157.61 L209.66,157.03 L210.56,156.46 L211.45,155.88 L212.34,155.30 L213.24,154.72 L214.13,154.13 L215.02,153.55 L215.92,152.97 L216.81,152.39 L217.70,151.81 L218.60,151.22 L219.49,150.64 L220.38,150.06 L221.28,149.47 L222.17,148.89 L223.06,148.31 L223.95,147.72 L224.85,147.14 L225.74,146.55 L226.63,145.97 L227.53,145.38 L228.42,144.79 L229.31,144.21 L230.21,143.62 L231.10,143.04 L231.99,142.45 L232.89,141.86 L233.78,141.27 L234.67,140.69 L235.57,140.10 L236.46,139.51 L237.35,138.92 L238.25,138.34 L239.14,137.75 L240.03,137.16 L240.93,136.57 L241.82,135.98 L242.71,135.39 L243.61,134.80 L244.50,134.21 L245.39,133.62 L246.29,133.03 L247.18,132.44 L248.07,131.85 L248.97,131.26 L249.86,130.67 L250.75,130.08 L251.65,129.49 L252.54,128.89 L253.43,128.30 L254.32,127.71 L255.22,127.12 L256.11,126.52 L257.00,125.93 L257.90,125.33 L258.79,124.74 L259.68,124.15 L260.58,123.55 L261.47,122.96 L262.36,122.36 L263.26,121.77 L264.15,121.17 L265.04,120.58 L265.94,119.98 L266.83,119.38 L267.72,118.79 L268.62,118.19 L269.51,117.59 L270.40,116.99 L271.30,116.40 L272.19,115.80 L273.08,115.20 L273.98,114.60 L274.87,114.00 L275.76,113.40 L276.66,112.80 L277.55,112.20 L278.44,111.60 L279.34,111.00 L280.23,110.40 L281.12,109.80 L282.02,109.20 L282.91,108.59 L283.80,107.99 L284.69,107.39 L285.59,106.78 L286.48,106.18 L287.37,105.57 L288.27,104.97 L289.16,104.37 L290.05,103.76 L290.95,103.16 L291.84,102.55 L292.73,101.95 L293.63,101.34 L294.52,100.74 L295.41,100.13 L296.31,99.52 L297.20,98.92 L298.09,98.31 L298.99,97.71 L299.88,97.10 L300.77,96.50 L301.67,95.89 L302.56,95.29 L303.45,94.68 L304.35,94.08 L305.24,93.47 L306.13,92.87 L307.03,92.26 L307.92,91.66 L308.81,91.05 L309.71,90.45 L310.60,89.85 L311.49,89.25 L312.38,88.64 L313.28,88.04 L314.17,87.44 L315.06,86.84 L315.96,86.24 L316.85,85.64 L317.74,85.04 L318.64,84.44 L319.53,83.84 L320.42,83.24 L321.32,82.64 L322.21,82.04 L323.10,81.44 L324.00,80.84 L324.89,80.24 L325.78,79.64 L326.68,79.04 L327.57,78.44 L328.46,77.84 L329.36,77.24 L330.25,76.64 L331.14,76.04 L332.04,75.43 L332.93,74.83 L333.82,74.23 L334.72,73.62 L335.61,73.02 L336.50,72.41 L337.40,71.80 L338.29,71.19 L339.18,70.59 L340.08,69.98 L340.97,69.36 L341.86,68.75 L342.75,68.14 L343.65,67.53 L344.54,66.91 L345.43,66.29 L346.33,65.67 L347.22,65.05 L348.11,64.43 L349.01,63.81 L349.90,63.19 L350.79,62.57 L351.69,61.94 L352.58,61.31 L353.47,60.69 L354.37,60.06 L355.26,59.43 L356.15,58.80 L357.05,58.17 L357.94,57.54 L358.83,56.91 L359.73,56.28 L360.62,55.65 L361.51,55.01 L362.41,54.38 L363.30,53.75 L364.19,53.11 L365.09,52.48 L365.98,51.85 L366.87,51.21 L367.77,50.58 L368.66,49.94 L369.55,49.31 L370.45,48.67 L371.34,48.04 L372.23,47.41 L373.12,46.77 L374.02,46.14 L374.91,45.50 L375.80,44.87 L376.70,44.24 L377.59,43.61 L378.48,42.98 L379.38,42.34 L380.27,41.71 L381.16,41.08 L382.06,40.45 L382.95,39.82 L383.84,39.19 L384.74,38.56 L385.63,37.93 L386.52,37.30 L387.42,36.67 L388.31,36.04 L389.20,35.41 L390.10,34.78 L390.99,34.15 L391.88,33.52 L392.78,32.89 L393.67,32.26 L394.56,31.63 L395.46,31.01 L396.35,30.38 L397.24,29.75 L398.14,29.12 L399.03,28.49 L399.92,27.86 L400.82,27.23 L401.71,26.60 L402.60,25.97 L403.49,25.34 L404.39,24.71 L405.28,24.08 L406.17,23.45 L407.07,22.82 L407.96,22.19 L408.85,21.56 L409.75,20.93 L410.64,20.30 L411.53,19.67 L412.43,19.04 L413.32,18.41 L414.21,17.78 L415.11,17.15 L416.00,16.52" stroke="#0000ff" stroke-dasharray="1.0 7.8" stroke-dashoffset="-3.4" stroke-linecap="round"/>
</g>
<text transform="translate(111.40,33.10)" text-anchor="end" font-family="Liberation Sans, sans-serif" font-weight="bold" font-size="14.5" fill="#0000ff" >QMC</text>
<text transform="translate(111.20,33.70)" text-anchor="start" font-family="Liberation Serif, serif" font-weight="normal" font-size="16.0" fill="#0000ff" >δ</text>
<path d="M126.7,29.3 H181" stroke="#0000ff" stroke-width="2.6" fill="none" stroke-dasharray="1.0 7.8" stroke-linecap="round"/>
<text transform="translate(119.00,48.50)" text-anchor="end" font-family="Liberation Sans, sans-serif" font-weight="bold" font-size="14.5" fill="#c06000" >QMC</text>
<path d="M125.3,44.7 H183.4" stroke="#c06000" stroke-width="2.6" fill="none" stroke-dasharray="18.3 8.5 1 6.5 1 8.5" stroke-linecap="round"/>
<text transform="translate(119.00,64.60)" text-anchor="end" font-family="Liberation Sans, sans-serif" font-weight="bold" font-size="14.6" fill="#008c00" >NL3</text>
<path d="M126.1,60.0 H181" stroke="#008c00" stroke-width="2.6" fill="none" stroke-dasharray="7.4 7.9" stroke-linecap="round"/>
<text transform="translate(114.30,80.40)" text-anchor="end" font-family="Liberation Sans, sans-serif" font-weight="bold" font-size="14.9" fill="#00c800" >NL3</text>
<text transform="translate(114.10,81.00)" text-anchor="start" font-family="Liberation Serif, serif" font-weight="normal" font-size="16.0" fill="#00c800" >δ</text>
<path d="M127.4,76.7 H187.5" stroke="#00c800" stroke-width="2.6" fill="none" stroke-dasharray="12.2 7.0 1 7.1" stroke-linecap="round"/>
<text transform="translate(118.10,97.20)" text-anchor="end" font-family="Liberation Sans, sans-serif" font-weight="bold" font-size="14.6" fill="#ff0000" >TW</text>
<path d="M125.3,93.6 H182.9" stroke="#ff0000" stroke-width="2.6" fill="none" />
<text transform="translate(52.60,263.15) scale(0.96,1)" text-anchor="end" font-family="Liberation Sans, sans-serif" font-weight="bold" font-size="14.8" fill="#000" >0</text>
<text transform="translate(52.60,221.26) scale(0.96,1)" text-anchor="end" font-family="Liberation Sans, sans-serif" font-weight="bold" font-size="14.8" fill="#000" >10</text>
<text transform="translate(52.60,179.37) scale(0.96,1)" text-anchor="end" font-family="Liberation Sans, sans-serif" font-weight="bold" font-size="14.8" fill="#000" >20</text>
<text transform="translate(52.60,137.47) scale(0.96,1)" text-anchor="end" font-family="Liberation Sans, sans-serif" font-weight="bold" font-size="14.8" fill="#000" >30</text>
<text transform="translate(52.60,95.58) scale(0.96,1)" text-anchor="end" font-family="Liberation Sans, sans-serif" font-weight="bold" font-size="14.8" fill="#000" >40</text>
<text transform="translate(52.60,53.69) scale(0.96,1)" text-anchor="end" font-family="Liberation Sans, sans-serif" font-weight="bold" font-size="14.8" fill="#000" >50</text>
<text transform="translate(52.60,11.80) scale(0.96,1)" text-anchor="end" font-family="Liberation Sans, sans-serif" font-weight="bold" font-size="14.8" fill="#000" >60</text>
<text transform="translate(62.30,277.00) scale(0.96,1)" text-anchor="middle" font-family="Liberation Sans, sans-serif" font-weight="bold" font-size="14.8" fill="#000" >0</text>
<text transform="translate(133.58,277.00) scale(0.96,1)" text-anchor="middle" font-family="Liberation Sans, sans-serif" font-weight="bold" font-size="14.8" fill="#000" >0.05</text>
<text transform="translate(204.86,277.00) scale(0.96,1)" text-anchor="middle" font-family="Liberation Sans, sans-serif" font-weight="bold" font-size="14.8" fill="#000" >0.1</text>
<text transform="translate(276.14,277.00) scale(0.96,1)" text-anchor="middle" font-family="Liberation Sans, sans-serif" font-weight="bold" font-size="14.8" fill="#000" >0.15</text>
<text transform="translate(347.42,277.00) scale(0.96,1)" text-anchor="middle" font-family="Liberation Sans, sans-serif" font-weight="bold" font-size="14.8" fill="#000" >0.2</text>
<text transform="translate(418.70,277.00) scale(0.96,1)" text-anchor="middle" font-family="Liberation Sans, sans-serif" font-weight="bold" font-size="14.8" fill="#000" >0.25</text>
<text transform="translate(214.40,298.70)" text-anchor="start" font-family="Liberation Serif, serif" font-weight="normal" font-size="20.6" fill="#000" >ρ</text>
<text transform="translate(229.50,298.70) scale(0.96,1)" text-anchor="start" font-family="Liberation Sans, sans-serif" font-weight="bold" font-size="20.4" fill="#000" >(fm</text>
<text transform="translate(257.50,288.30) scale(0.97,1)" text-anchor="start" font-family="Liberation Sans, sans-serif" font-weight="bold" font-size="15.4" fill="#000" >−3</text>
<text transform="translate(275.70,298.70) scale(0.96,1)" text-anchor="start" font-family="Liberation Sans, sans-serif" font-weight="bold" font-size="20.4" fill="#000" >)</text>
<text transform="translate(15.80,177.30) rotate(-90) scale(1.2,1)" text-anchor="start" font-family="Liberation Serif, serif" font-weight="normal" font-size="20.8" fill="#000" >ε</text>
<text transform="translate(22.40,168.50) rotate(-90) scale(0.92,1)" text-anchor="start" font-family="Liberation Sans, sans-serif" font-weight="bold" font-size="15.4" fill="#000" >sym</text>
<text transform="translate(16.40,135.50) rotate(-90) scale(0.938,1)" text-anchor="start" font-family="Liberation Sans, sans-serif" font-weight="bold" font-size="20.4" fill="#000" >(MeV)</text>
<text transform="translate(344.50,222.70)" text-anchor="start" font-family="Liberation Sans, sans-serif" font-weight="bold" font-size="24.6" fill="#000" >(a)</text>
</svg>
</body></html>
